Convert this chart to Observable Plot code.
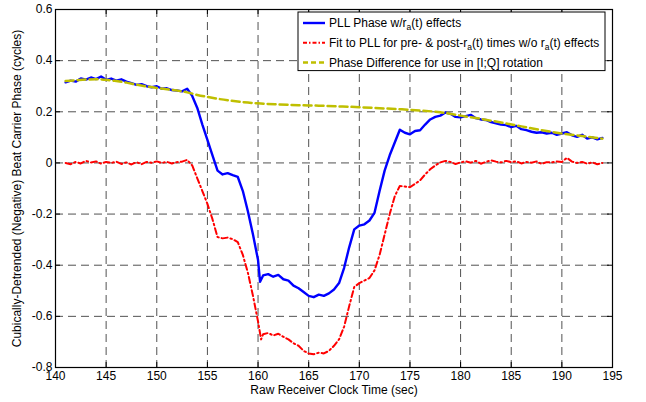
<!DOCTYPE html>
<html>
<head>
<meta charset="utf-8">
<script src="https://cdn.jsdelivr.net/npm/d3@7"></script>
<script src="https://cdn.jsdelivr.net/npm/@observablehq/plot@0.6"></script>
<style>
  html, body { margin: 0; padding: 0; background: #fff; }
  svg { display: block; }
</style>
</head>
<body>
<div id="chart"></div>
<script>
// ---- data (time in sec, phase in cycles) ----
const seriesNames = [
  "PLL Phase w/r|a|(t) effects",
  "Fit to PLL for pre- & post-r|a|(t) times w/o r|a|(t) effects",
  "Phase Difference for use in [I;Q] rotation"
];
const xTicks = [140, 145, 150, 155, 160, 165, 170, 175, 180, 185, 190, 195];
const yTicks = [-0.8, -0.6, -0.4, -0.2, 0, 0.2, 0.4, 0.6];

const pllPhase = [
  [141.0,0.315],[141.5,0.322],[142.0,0.318],[142.5,0.330],[143.0,0.326],[143.5,0.334],
  [144.0,0.328],[144.5,0.338],[145.0,0.325],[145.5,0.330],[146.0,0.322],[146.5,0.327],
  [147.0,0.318],[147.5,0.312],[148.0,0.305],[148.5,0.308],[149.0,0.300],[149.5,0.296],
  [150.0,0.300],[150.5,0.290],[151.0,0.292],[151.5,0.285],[152.0,0.283],[152.5,0.280],
  [153.0,0.290],[153.5,0.262],[154.0,0.215],[154.5,0.150],[155.0,0.090],[155.5,0.030],
  [156.0,-0.030],[156.5,-0.045],[157.0,-0.040],[157.5,-0.048],[158.0,-0.055],[158.5,-0.110],
  [159.0,-0.190],[159.5,-0.280],[160.0,-0.380],[160.2,-0.465],[160.5,-0.440],[161.0,-0.435],
  [161.5,-0.445],[162.0,-0.438],[162.5,-0.455],[163.0,-0.460],[163.5,-0.480],[164.0,-0.490],
  [164.5,-0.505],[165.0,-0.520],[165.5,-0.525],[166.0,-0.515],[166.5,-0.520],[167.0,-0.510],
  [167.5,-0.495],[168.0,-0.470],[168.5,-0.410],[169.0,-0.330],[169.5,-0.260],[170.0,-0.245],
  [170.5,-0.240],[171.0,-0.225],[171.5,-0.195],[172.0,-0.110],[172.5,-0.030],[173.0,0.030],
  [173.5,0.080],[174.0,0.130],[174.5,0.118],[175.0,0.112],[175.5,0.125],[176.0,0.128],
  [176.5,0.150],[177.0,0.170],[177.5,0.180],[178.0,0.185],[178.5,0.197],[179.0,0.192],
  [179.5,0.180],[180.0,0.178],[180.5,0.183],[181.0,0.188],[181.5,0.175],[182.0,0.170],
  [182.5,0.168],[183.0,0.160],[183.5,0.155],[184.0,0.150],[184.5,0.148],[185.0,0.140],
  [185.5,0.145],[186.0,0.132],[186.5,0.128],[187.0,0.122],[187.5,0.118],[188.0,0.120],
  [188.5,0.115],[189.0,0.118],[189.5,0.110],[190.0,0.115],[190.5,0.120],[191.0,0.108],
  [191.5,0.102],[192.0,0.110],[192.5,0.095],[193.0,0.100],[193.5,0.092],[194.0,0.098]
];

const fitPhase = [
  [141.0,0.000],[141.5,-0.005],[142.0,0.004],[142.5,-0.002],[143.0,0.008],[143.5,0.002],
  [144.0,0.006],[144.5,-0.003],[145.0,0.004],[145.5,0.000],[146.0,0.005],[146.5,-0.004],
  [147.0,0.002],[147.5,-0.006],[148.0,0.003],[148.5,-0.005],[149.0,0.004],[149.5,0.001],
  [150.0,0.006],[150.5,0.000],[151.0,0.004],[151.5,-0.002],[152.0,0.003],[152.5,0.005],
  [153.0,0.012],[153.5,-0.010],[154.0,-0.060],[154.5,-0.110],[155.0,-0.160],[155.5,-0.220],
  [156.0,-0.290],[156.5,-0.295],[157.0,-0.292],[157.5,-0.298],[158.0,-0.310],[158.5,-0.360],
  [159.0,-0.430],[159.5,-0.520],[160.0,-0.620],[160.3,-0.690],[160.5,-0.670],[161.0,-0.665],
  [161.5,-0.675],[162.0,-0.668],[162.5,-0.680],[163.0,-0.690],[163.5,-0.705],[164.0,-0.715],
  [164.5,-0.735],[165.0,-0.745],[165.5,-0.748],[166.0,-0.742],[166.5,-0.745],[167.0,-0.735],
  [167.5,-0.715],[168.0,-0.690],[168.5,-0.640],[169.0,-0.560],[169.5,-0.485],[170.0,-0.470],
  [170.5,-0.460],[171.0,-0.450],[171.5,-0.420],[172.0,-0.360],[172.5,-0.280],[173.0,-0.200],
  [173.5,-0.130],[174.0,-0.090],[174.5,-0.092],[175.0,-0.095],[175.5,-0.082],[176.0,-0.068],
  [176.5,-0.045],[177.0,-0.025],[177.5,-0.010],[178.0,0.002],[178.5,0.008],[179.0,0.004],
  [179.5,-0.004],[180.0,0.002],[180.5,0.006],[181.0,0.001],[181.5,0.008],[182.0,-0.003],
  [182.5,0.004],[183.0,0.010],[183.5,0.005],[184.0,0.002],[184.5,0.008],[185.0,0.003],
  [185.5,0.006],[186.0,-0.002],[186.5,0.004],[187.0,0.001],[187.5,0.006],[188.0,-0.004],
  [188.5,0.003],[189.0,0.002],[189.5,0.006],[190.0,0.004],[190.5,0.020],[191.0,0.005],
  [191.5,0.000],[192.0,0.004],[192.5,-0.003],[193.0,0.002],[193.5,-0.005],[194.0,0.000]
];

const phaseDiff = [
  [141,0.320],[142,0.323],[143,0.326],[144,0.327],[145,0.325],[146,0.320],[147,0.314],
  [148,0.306],[149,0.299],[150,0.293],[151,0.288],[152,0.283],[153,0.276],[154,0.266],
  [155,0.258],[156,0.251],[157,0.245],[158,0.240],[159,0.236],[160,0.233],[162,0.229],
  [164,0.226],[166,0.224],[168,0.221],[170,0.218],[172,0.214],[174,0.210],[176,0.205],
  [178,0.198],[180,0.185],[182,0.172],[184,0.158],[186,0.143],[188,0.128],[190,0.115],
  [192,0.105],[194,0.095]
];

const colors = ["#0000ff", "#ff0000", "#bfbf00"];
const dashes = [null, "6,3,1.5,3", "8,4"];
const widths = [2.4, 2, 2.5];

// ---- layout ----
const W = 646, H = 402;
const mL = 55, mR = 34, mT = 9, mB = 35;
const pw = W - mL - mR, ph = H - mT - mB;
const font = "'Liberation Sans', Arial, Helvetica, sans-serif";
const fs = 12;
const fmt = d => (Math.round(d * 10) / 10).toString();

const chart = Plot.plot({
  width: W, height: H,
  marginLeft: mL, marginRight: mR, marginTop: mT, marginBottom: mB,
  style: {fontFamily: font, fontSize: fs + "px", color: "#000", background: "#fff"},
  x: {domain: [140, 195]},
  y: {domain: [-0.8, 0.6]},
  marks: [
    Plot.gridX(xTicks.slice(1, -1), {stroke: "#333", strokeOpacity: 0.85, strokeDasharray: "8,5", strokeWidth: 1}),
    Plot.gridY(yTicks.slice(1, -1), {stroke: "#333", strokeOpacity: 0.85, strokeDasharray: "8,5", strokeWidth: 1}),
    // inward ticks on all four sides
    Plot.tickX(xTicks, {x: d => d, stroke: "#000", insetTop: ph - 5}),
    Plot.tickX(xTicks, {x: d => d, stroke: "#000", insetBottom: ph - 5}),
    Plot.tickY(yTicks, {y: d => d, stroke: "#000", insetRight: pw - 5}),
    Plot.tickY(yTicks, {y: d => d, stroke: "#000", insetLeft: pw - 5}),
    Plot.axisX(xTicks, {tickSize: 0, tickPadding: 4, label: null, fill: "#000", fontSize: fs}),
    Plot.axisY(yTicks, {tickSize: 0, tickPadding: 3, label: null, tickFormat: fmt, fill: "#000", fontSize: fs}),
    Plot.line(pllPhase, {x: d => d[0], y: d => d[1], stroke: colors[0], strokeWidth: widths[0]}),
    Plot.line(fitPhase, {x: d => d[0], y: d => d[1], stroke: colors[1], strokeWidth: widths[1], strokeDasharray: dashes[1]}),
    Plot.line(phaseDiff, {x: d => d[0], y: d => d[1], stroke: colors[2], strokeWidth: widths[2], strokeDasharray: dashes[2], curve: "monotone-x"}),
    Plot.frame({stroke: "#000", strokeWidth: 1.2}),
    Plot.text(["Raw Receiver Clock Time (sec)"], {frameAnchor: "bottom", dy: 26, text: d => d, fill: "#000", fontSize: fs, textAnchor: "middle"}),
    Plot.text(["Cubically-Detrended (Negative) Beat Carrier Phase (cycles)"], {frameAnchor: "left", dx: -38, rotate: -90, text: d => d, fill: "#000", fontSize: fs, textAnchor: "middle"})
  ]
});

// ---- legend (MATLAB-style box, top right inside the axes) ----
const svg = d3.select(chart);
const lgRight = W - mR - 7, lgLeft = 298, lgTop = mT + 3, rowH = 19.7;
const g = svg.append("g").attr("font-family", font).attr("font-size", fs).attr("text-anchor", "start");
g.append("rect").attr("x", lgLeft).attr("y", lgTop).attr("width", lgRight - lgLeft).attr("height", rowH * 3 - 0.5)
  .attr("fill", "#fff").attr("stroke", "#000").attr("stroke-width", 1);
seriesNames.forEach((name, i) => {
  const cy = lgTop + 11 + i * rowH;
  g.append("line").attr("x1", lgLeft + 5).attr("x2", lgLeft + 27).attr("y1", cy).attr("y2", cy)
    .attr("stroke", colors[i]).attr("stroke-width", widths[i])
    .attr("stroke-dasharray", i === 1 ? "4,2,1.5,2" : (i === 2 ? "5,3" : null));
  const t = g.append("text").attr("x", lgLeft + 31).attr("y", cy).attr("dy", "0.35em")
    .attr("fill", "#000").attr("text-anchor", "start");
  const parts = name.split("|");
  parts.forEach((p, k) => {
    if (k % 2 === 1) {
      t.append("tspan").attr("font-size", 8.5).attr("dy", 3).text(p);
    } else {
      const s = t.append("tspan").text(p);
      if (k > 0) s.attr("dy", -3);
    }
  });
});

document.getElementById("chart").appendChild(chart);
</script>
</body>
</html>
